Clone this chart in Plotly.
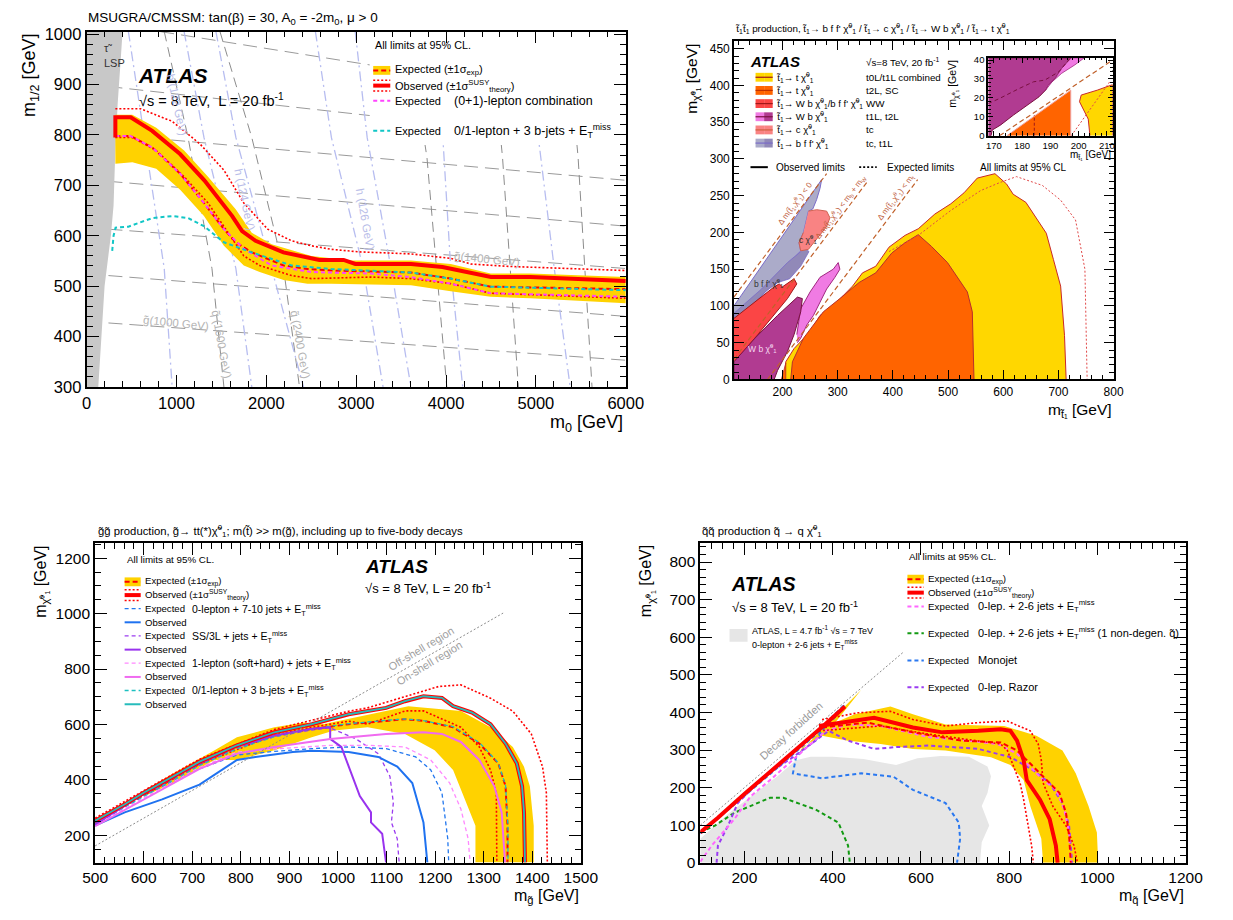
import plotly.graph_objects as go

W, H = 1233, 920
FONT = "Liberation Sans, Arial, Helvetica, sans-serif"

# ======================= mSUGRA/CMSSM (m0, m1/2) =======================
lsp_edge_m0 = [400, 380, 345, 318, 300, 270, 235, 200, 165, 130]
lsp_edge_m12 = [1005, 950, 860, 760, 660, 600, 550, 500, 400, 300]

band_hi_m0 = [320, 509, 775, 1085, 1351, 1661, 1838, 2059, 2502, 2945, 3609, 4052, 4495, 4938, 6000]
band_hi_m12 = [840, 840, 814, 769, 717, 652, 606, 583, 560, 551, 551, 544, 525, 525, 518]
band_lo_m0 = [320, 509, 775, 1041, 1306, 1528, 1749, 1926, 2192, 2458, 2724, 3609, 4052, 4495, 4938, 6000]
band_lo_m12 = [743, 746, 733, 691, 639, 580, 541, 528, 512, 505, 505, 502, 490, 479, 476, 466]

exp_m0 = [320, 487, 731, 1041, 1306, 1528, 1661, 1838, 2192, 2458, 2724, 3609, 4052, 4495, 6000]
exp_m12 = [798, 798, 775, 723, 665, 613, 587, 567, 541, 534, 531, 527, 515, 499, 494]

obs_m0 = [320, 320, 490, 730, 1040, 1310, 1620, 1730, 1880, 2190, 2590, 2860, 2990, 3610, 3960, 4500, 4940, 6000]
obs_m12 = [795, 835, 835, 808, 762, 710, 639, 609, 590, 567, 552, 552, 544, 544, 538, 518, 518, 510]
obs_up_m0 = [320, 598, 952, 1262, 1528, 1749, 2015, 2281, 2502, 2724, 3034, 3609, 4052, 4274, 4717, 5381, 6000]
obs_up_m12 = [852, 852, 827, 782, 730, 665, 613, 590, 580, 573, 568, 564, 555, 544, 539, 535, 531]
obs_dn_m0 = [320, 509, 775, 1085, 1351, 1572, 1749, 1926, 2281, 2502, 3165, 3609, 4052, 4495, 6000]
obs_dn_m12 = [795, 795, 769, 717, 665, 606, 560, 541, 521, 515, 518, 515, 505, 486, 476]

lep01_m0 = [320, 487, 731, 1041, 1306, 1528, 1749, 2059, 2502, 3165, 3609, 4052, 4495, 6000]
lep01_m12 = [798, 798, 775, 723, 665, 613, 574, 541, 528, 525, 518, 505, 486, 479]
bjet3_m0 = [285, 300, 322, 465, 731, 952, 1129, 1306, 1528, 1838, 2281, 2724, 3609, 4052, 4495, 6000]
bjet3_m12 = [570, 600, 616, 618, 635, 639, 635, 619, 587, 567, 541, 534, 527, 515, 499, 492]

# iso-mass contours drawn behind the limits
gluino_m0 = [[243, 6000], [243, 6000], [243, 6000], [243, 6000], [243, 6000], [243, 6000], [819, 6000]]
gluino_m12 = [[427, 353], [521, 440], [613, 535], [708, 619], [801, 710], [896, 782], [1005, 858]]
squark_m0 = [[864, 1129, 1395, 1528], [1484, 1838, 2192, 2369], [3570, 3787, 4008],
             [4490, 4628, 4805], [5340, 5469, 5624]]
squark_m12 = [[1005, 795, 535, 300], [1005, 795, 535, 300], [1005, 756, 300],
              [1005, 756, 300], [1005, 756, 300]]
higgs_m0 = [[465, 642, 864, 952], [1085, 1306, 1661, 1838], [1439, 1661, 2059, 2414],
            [2546, 2724, 3078, 3299], [2989, 3122, 3388, 3609], [3875, 3964, 4052, 4185],
            [4894, 5027, 5204, 5381]]
higgs_m12 = [1005, 795, 535, 300]

# ======================= stop pair production =======================
st_tchi_x = [203, 206, 221, 250, 268, 286, 310, 327, 345, 369, 393, 422, 446, 476, 505, 529, 553, 585,
             606, 618, 641, 658, 678, 691, 704, 711, 714]
st_tchi_y = [0, 24, 42, 65, 87, 96, 114, 127, 145, 154, 180, 196, 205, 225, 239, 254, 274, 280,
             266, 252, 241, 221, 199, 163, 127, 60, 0]
st_tchi_exp_x = [393, 446, 505, 559, 594, 624, 671, 704, 731, 748, 752]
st_tchi_exp_y = [174, 196, 230, 257, 268, 276, 264, 244, 217, 150, 0]
st_t2l_x = [215, 218, 238, 274, 304, 339, 369, 398, 422, 446, 470, 499, 535, 544, 547]
st_t2l_y = [0, 24, 56, 92, 110, 132, 145, 172, 186, 197, 181, 159, 119, 92, 0]
st_t2l_b_x = [198, 206, 206]
st_t2l_b_y = [0, 22, 0]
st_bff_x = [112, 271, 268, 262, 255, 247, 238, 230, 233, 215, 195, 170, 145, 120, 112]
st_bff_y = [100, 272, 260, 245, 232, 229, 200, 186, 175, 160, 140, 120, 100, 75, 60]
st_bff_in_x = [112, 112, 162, 209, 241, 248, 233, 213, 192, 170, 145, 120]
st_bff_in_y = [60, 90, 123, 159, 179, 174, 154, 137, 132, 120, 100, 75]
st_tc_x = [247, 262, 280, 286, 280, 262, 247, 233, 230, 238]
st_tc_y = [229, 231, 229, 220, 208, 191, 177, 175, 186, 200]
st_ww_x = [112, 150, 185, 194, 200, 221, 226, 209, 179, 150, 120, 112]
st_ww_y = [83, 106, 126, 130, 126, 137, 130, 110, 83, 56, 29, 20]
st_wb_x = [112, 112, 150, 191, 227, 236, 233, 221, 209, 191, 185]
st_wb_y = [0, 24, 56, 87, 112, 110, 92, 61, 38, 12, 0]
st_wb2_x = [226, 233, 250, 268, 292, 301, 304, 295, 280, 268, 256, 244, 233, 227]
st_wb2_y = [61, 96, 119, 139, 150, 159, 150, 139, 123, 105, 87, 74, 56, 50]
# kinematic boundaries: m(chi) = m(stop) - dm
kin_dm = [0, 84.6, 173]
kin_x0 = [112, 112, 173]
kin_x1 = [280, 355, 445]

# zoom on the m(stop) ~ m(top) corridor
in_wb_x = [168, 169, 169.4, 172.3, 176.9, 182.6, 186, 188.3, 189.4, 191.7, 194, 197.4, 168]
in_wb_y = [0, 0, 3, 5.6, 10.9, 17.1, 20.6, 24.1, 26.8, 30.3, 35.6, 41.2, 41.2]
in_wb2_x = [188.3, 190.6, 194, 198.6, 202, 197.4, 194, 191.7, 189.4]
in_wb2_y = [24.1, 28.5, 33, 37.4, 41.2, 41.2, 35.6, 30.3, 26.8]
in_wb_exp_x = [168, 172, 179, 184, 188, 193, 197]
in_wb_exp_y = [17, 19.7, 25, 28.5, 29.4, 33.8, 41]
in_t2l_x = [174.6, 197.2, 197.2]
in_t2l_y = [0, 24.1, 0]
in_tchi_x = [204, 203.4, 200.3, 200.9, 206.6, 212, 212]
in_tchi_y = [0, 8.8, 18, 21.5, 24.1, 27, 0]
in_tchi_exp_x = [197.4, 211]
in_tchi_exp_y = [0, 28.5]
in_t2l_exp_x = [184.3, 184.3]
in_t2l_exp_y = [0, 10.9]
in_kin_x = [172, 212]
in_kin_y = [0, 40]

# ======================= gluino -> tt chi =======================
gl_band_out_x = [600, 661, 746, 792, 869, 930, 969, 1099, 1145, 1253, 1314, 1360, 1383, 1395, 1403, 1403]
gl_band_out_y = [360, 424, 507, 554, 590, 607, 601, 649, 666, 649, 590, 519, 448, 377, 235, 102]
gl_band_in_x = [1283, 1283, 1237, 1199, 1138, 1061, 992, 946, 869, 792, 746, 661, 600]
gl_band_in_y = [102, 235, 436, 507, 566, 590, 578, 554, 507, 472, 472, 389, 340]
gl_obs_x = [500, 561, 600, 654, 715, 792, 869, 946, 1022, 1099, 1138, 1176, 1214, 1237, 1276, 1314,
            1345, 1368, 1379, 1383, 1385]
gl_obs_y = [253, 312, 354, 407, 466, 525, 572, 601, 637, 660, 684, 702, 696, 666, 643, 601,
            531, 460, 377, 283, 102]
gl_obs_up_x = [500, 600, 715, 869, 1022, 1061, 1138, 1207, 1253, 1314, 1360, 1398, 1421, 1429, 1431]
gl_obs_up_y = [262, 362, 475, 582, 648, 660, 702, 737, 743, 695, 648, 566, 448, 354, 102]
gl_obs_dn_x = [500, 600, 715, 869, 946, 1022, 1061, 1138, 1176, 1253, 1291, 1314, 1326, 1327, 1327]
gl_obs_dn_y = [245, 346, 457, 562, 590, 612, 601, 649, 649, 590, 519, 436, 354, 235, 102]
gl_exp_x = [500, 600, 715, 792, 869, 946, 1022, 1099, 1138, 1176, 1237, 1291, 1330, 1345, 1349, 1349]
gl_exp_y = [247, 345, 458, 519, 560, 584, 601, 613, 619, 613, 590, 531, 460, 377, 235, 102]
gl_3b_exp_x = [500, 600, 715, 792, 869, 946, 1022, 1099, 1138, 1176, 1237, 1291, 1330, 1345, 1350, 1350]
gl_3b_exp_y = [243, 340, 452, 512, 556, 584, 603, 615, 620, 614, 592, 535, 462, 380, 235, 102]
gl_0l_obs_x = [500, 561, 638, 715, 792, 830, 907, 946, 1022, 1083, 1122, 1153, 1176, 1184]
gl_0l_obs_y = [235, 283, 330, 383, 472, 483, 501, 505, 501, 483, 448, 389, 247, 102]
gl_0l_exp_x = [500, 600, 715, 792, 869, 946, 1022, 1099, 1160, 1191, 1214, 1226, 1228]
gl_0l_exp_y = [238, 345, 440, 490, 503, 513, 519, 513, 483, 436, 354, 188, 102]
gl_ss_obs_x = [500, 600, 715, 792, 869, 946, 984, 984, 1007, 1022, 1045, 1068, 1068, 1091, 1099]
gl_ss_obs_y = [240, 350, 460, 520, 560, 585, 590, 548, 519, 448, 342, 283, 247, 206, 102]
gl_ss_exp_x = [500, 600, 715, 792, 869, 946, 984, 1037, 1083, 1107, 1114, 1110, 1122, 1126]
gl_ss_exp_y = [238, 346, 455, 515, 556, 580, 588, 548, 495, 413, 318, 247, 188, 102]
gl_1l_obs_x = [500, 600, 715, 792, 869, 984, 1099, 1176, 1214, 1253, 1291, 1322, 1337, 1344]
gl_1l_obs_y = [233, 330, 440, 495, 519, 548, 566, 572, 566, 537, 472, 377, 283, 102]
gl_1l_exp_x = [500, 600, 715, 792, 869, 984, 1061, 1138, 1191, 1230, 1253, 1268, 1272]
gl_1l_exp_y = [236, 335, 445, 500, 512, 525, 525, 519, 472, 389, 295, 188, 102]
gl_diag_x = [500, 1340]
gl_diag_y = [162, 1002]

# ======================= squark -> q chi =======================
sq7_x = [100, 100, 167, 225, 275, 317, 350, 400, 470, 544, 592, 645, 709, 751, 759, 751, 738, 755, 738, 734]
sq7_y = [0, 64, 134, 186, 230, 273, 282, 282, 276, 260, 278, 284, 282, 256, 230, 186, 151, 99, 55, 0]
sq_band_x = [325, 465, 406, 450, 531, 582, 656, 789, 862, 921, 951, 980, 999, 1002, 877, 873, 848, 833,
             803, 759, 656, 582, 509, 435, 376, 332]
sq_band_y = [295, 460, 373, 395, 416, 395, 368, 364, 338, 299, 238, 151, 81, 0, 0, 64, 151, 220,
             260, 281, 299, 303, 316, 325, 338, 308]
sq_obs_diag_x = [100, 140, 200, 260, 320, 380, 428]
sq_obs_diag_y = [81, 120, 183, 243, 305, 365, 416]
sq_obs_x = [369, 435, 494, 582, 649, 730, 781, 803, 818, 833, 840, 870, 892, 906, 910]
sq_obs_y = [364, 377, 386, 360, 347, 351, 355, 351, 325, 273, 220, 168, 116, 46, 0]
sq_obs_up_x = [376, 457, 531, 582, 656, 730, 796, 848, 866, 873, 877, 899, 929, 947, 955]
sq_obs_up_y = [381, 399, 403, 381, 364, 373, 377, 351, 316, 273, 213, 151, 99, 46, 0]
sq_obs_dn_x = [369, 509, 619, 730, 781, 796, 811, 825, 833, 840, 851, 855]
sq_obs_dn_y = [351, 364, 342, 325, 316, 299, 255, 212, 168, 116, 46, 0]
sq_exp_x = [376, 479, 582, 693, 781, 818, 848, 877, 914, 929, 936, 940]
sq_exp_y = [360, 373, 347, 325, 320, 299, 264, 229, 186, 133, 72, 0]
sq_0l_exp_x = [100, 126, 177, 214, 258, 317, 361, 384, 435, 509, 619, 708, 774, 818, 848, 877, 907, 925, 936, 940]
sq_0l_exp_y = [3, 46, 116, 177, 220, 281, 325, 351, 368, 364, 334, 325, 316, 290, 255, 220, 194, 142, 81, 0]
sq_1nd_exp_x = [100, 133, 177, 258, 288, 361, 413, 435, 439]
sq_1nd_exp_y = [81, 99, 133, 173, 173, 142, 107, 46, 0]
sq_mono_exp_x = [100, 160, 220, 280, 340, 400, 428, 400, 376, 361, 332, 317, 310, 376, 465, 538, 582, 656,
                 686, 689, 682]
sq_mono_exp_y = [78, 137, 198, 258, 318, 380, 421, 390, 351, 325, 299, 281, 238, 225, 238, 229, 194, 159,
                 107, 64, 0]
sq_razor_exp_x = [137, 140, 163, 185, 244, 310, 361, 391, 435, 494, 546, 619, 730, 803, 855, 892, 921, 936, 943]
sq_razor_exp_y = [0, 46, 99, 159, 229, 281, 325, 351, 325, 303, 308, 312, 303, 281, 246, 212, 159, 99, 0]
sq_diag_x = [100, 560]
sq_diag_y = [100, 560]

# ---------------------------------------------------------------------------
fig = go.Figure()


def px(x):
    return x / W


def py(y):
    return 1 - y / H


def line(x, y, ax, color, width, dash="solid"):
    fig.add_trace(go.Scatter(x=x, y=y, mode="lines", xaxis="x" + ax, yaxis="y" + ax,
                             line=dict(color=color, width=width, dash=dash),
                             hoverinfo="skip", showlegend=False))


def area(x, y, ax, color, edge=None, ew=0):
    fig.add_trace(go.Scatter(x=x, y=y, mode="lines", fill="toself", fillcolor=color,
                             xaxis="x" + ax, yaxis="y" + ax,
                             line=dict(color=edge or color, width=ew),
                             hoverinfo="skip", showlegend=False))


DOT = "2px,2px"
DASH = "5px,3px"
RED = "#ff0000"
YEL = "#ffd200"

# ---- panel 1 -------------------------------------------------------------
for xs, ys in zip(gluino_m0, gluino_m12):
    line(xs, ys, "", "#9a9a9a", 1, "14px,7px")
for xs, ys in zip(squark_m0, squark_m12):
    line(xs, ys, "", "#8c8c8c", 1, "10px,6px")
for xs in higgs_m0:
    line(xs, higgs_m12, "", "#b7bdf0", 1.3, "10px,4px,2px,4px")
# white legend backdrop
LEG1 = (3150, 6000, 780, 1005)
area([LEG1[0], LEG1[1], LEG1[1], LEG1[0]], [LEG1[2], LEG1[2], LEG1[3], LEG1[3]], "", "white")
area([0] + lsp_edge_m0 + [0], [1005] + lsp_edge_m12 + [300], "", "#c8c8c8")
area(band_hi_m0 + band_lo_m0[::-1], band_hi_m12 + band_lo_m12[::-1], "", YEL)
line(obs_up_m0, obs_up_m12, "", RED, 1.6, DOT)
line(obs_dn_m0, obs_dn_m12, "", RED, 1.6, DOT)
line(exp_m0, exp_m12, "", RED, 2, DASH)
line(lep01_m0, lep01_m12, "", "#ff44ff", 2, "4px,3px")
line(bjet3_m0, bjet3_m12, "", "#11c6c6", 2, "4px,3px")
line(obs_m0, obs_m12, "", RED, 4)

# ---- panel 2 -------------------------------------------------------------
area(st_bff_x, st_bff_y, "2", "#ababc9", "#7a6cc8", 1)
area(st_bff_in_x, st_bff_in_y, "2", "#9189b8", "#7a6cc8", 0.8)
area(st_tc_x, st_tc_y, "2", "#f98383", "#d06050", 1)
area(st_ww_x, st_ww_y, "2", "#fb4545", "#a01818", 1)
area(st_wb2_x, st_wb2_y, "2", "#f07be3", "#a02880", 1)
area(st_wb_x, st_wb_y, "2", "#b13b91", "#7a1040", 1)
area(st_tchi_x, st_tchi_y, "2", "#ffd700", "#c8282a", 1)
area(st_t2l_x, st_t2l_y, "2", "#ff6400", "#b8302a", 1)
area(st_t2l_b_x, st_t2l_b_y, "2", "#ff6400", "#b8302a", 0.8)
line(st_tchi_exp_x, st_tchi_exp_y, "2", "#e04848", 1, "2px,2px")
for dm, x0, x1 in zip(kin_dm, kin_x0, kin_x1):
    line([x0, x1], [x0 - dm, x1 - dm], "2", "#c0602a", 1.2, "5px,3px")

# inset
area(in_wb_x, in_wb_y, "5", "#b13b91", "#7a1040", 1)
area(in_wb2_x, in_wb2_y, "5", "#f07be3", "#a02880", 0.8)
area(in_t2l_x, in_t2l_y, "5", "#ff6400", "#f0a0a0", 1)
area(in_tchi_x, in_tchi_y, "5", "#ffd700", "#c8282a", 1)
line(in_wb_exp_x, in_wb_exp_y, "5", "#7a1040", 1, "4px,3px")
line(in_tchi_exp_x, in_tchi_exp_y, "5", "#e04848", 1, "2px,2px")
line(in_t2l_exp_x, in_t2l_exp_y, "5", "#a01818", 1, "3px,2px")
line(in_kin_x, in_kin_y, "5", "#c0602a", 1.2, "5px,3px")

# ---- panel 3 -------------------------------------------------------------
area(gl_band_out_x + gl_band_in_x, gl_band_out_y + gl_band_in_y, "3", YEL)
line(gl_obs_up_x, gl_obs_up_y, "3", RED, 1.6, DOT)
line(gl_obs_dn_x, gl_obs_dn_y, "3", RED, 1.6, DOT)
line(gl_0l_exp_x, gl_0l_exp_y, "3", "#2277ee", 1.3, "4px,3px")
line(gl_ss_exp_x, gl_ss_exp_y, "3", "#9b3cf0", 1.3, "4px,3px")
line(gl_1l_exp_x, gl_1l_exp_y, "3", "#ff88ff", 1.3, "4px,3px")
line(gl_exp_x, gl_exp_y, "3", RED, 2, DASH)
line(gl_3b_exp_x, gl_3b_exp_y, "3", "#1cc0c0", 1.3, "4px,3px")
line(gl_0l_obs_x, gl_0l_obs_y, "3", "#1f72f0", 2)
line(gl_ss_obs_x, gl_ss_obs_y, "3", "#9933ee", 2)
line(gl_1l_obs_x, gl_1l_obs_y, "3", "#f06af0", 2)
line(gl_obs_x, gl_obs_y, "3", RED, 4)
line(gl_obs_x, gl_obs_y, "3", "#26bcbc", 1.8)
line(gl_diag_x, gl_diag_y, "3", "#8a8a8a", 1, "2px,2px")

# ---- panel 4 -------------------------------------------------------------
area(sq7_x, sq7_y, "4", "#e6e6e6")
area(sq_band_x, sq_band_y, "4", YEL)
line(sq_1nd_exp_x, sq_1nd_exp_y, "4", "#139a13", 2, "4px,3px")
line(sq_mono_exp_x, sq_mono_exp_y, "4", "#2a78f0", 2, "4px,3px")
line(sq_razor_exp_x, sq_razor_exp_y, "4", "#9a3cf2", 2, "4px,3px")
line(sq_0l_exp_x, sq_0l_exp_y, "4", "#ff66ff", 2, "4px,3px")
line(sq_obs_up_x, sq_obs_up_y, "4", RED, 1.6, DOT)
line(sq_obs_dn_x, sq_obs_dn_y, "4", RED, 1.6, DOT)
line(sq_exp_x, sq_exp_y, "4", RED, 2, DASH)
line(sq_obs_x, sq_obs_y, "4", RED, 4)
line(sq_obs_diag_x, sq_obs_diag_y, "4", RED, 4)
line(sq_diag_x, sq_diag_y, "4", "#8a8a8a", 1, "2px,2px")


# ---- axes ----------------------------------------------------------------
def axis(domain, rng, dtick, mdtick, tlen, mlen, fsize, anchor, lw=1.8):
    return dict(domain=domain, range=rng, dtick=dtick, tick0=0, ticks="inside", ticklen=tlen,
                tickwidth=1.3, tickcolor="black", mirror="allticks", showline=True,
                linecolor="black", linewidth=lw, showgrid=False, zeroline=False, anchor=anchor,
                tickfont=dict(family=FONT, size=fsize, color="black"),
                minor=dict(dtick=mdtick, tick0=0, ticks="inside", ticklen=mlen, tickwidth=1,
                           tickcolor="black", showgrid=False))


fig.update_layout(
    width=W, height=H, margin=dict(l=0, r=0, t=0, b=0),
    paper_bgcolor="white", plot_bgcolor="white", showlegend=False,
    xaxis=axis([px(75.5), px(628.6)], [0, 6000], 1000, 200, 12, 6, 16.5, "y"),
    yaxis=axis([py(386.7), py(25)], [300, 1005], 100, 20, 12, 6, 16.5, "x"),
    xaxis2=axis([px(739.5), px(1129)], [112, 800], 100, 20, 10, 5, 12, "y2", 1.5),
    yaxis2=axis([py(379), py(34.3)], [0, 461], 50, 10, 10, 5, 12, "x2", 1.5),
    xaxis3=axis([px(84.2), px(582.5)], [500, 1500], 100, 20, 12, 6, 15.5, "y3"),
    yaxis3=axis([py(870.7), py(545.7)], [102, 1254], 200, 50, 12, 6, 15.5, "x3"),
    xaxis4=axis([px(705), px(1202.8)], [100, 1200], 200, 25, 12, 6, 15.5, "y4"),
    yaxis4=axis([py(871), py(545.7)], [0, 850], 100, 20, 12, 6, 15.5, "x4"),
    xaxis5=axis([px(1000.4), px(1127.9)], [168, 212], 10, 2, 5, 2.5, 9.5, "y5", 1.8),
    yaxis5=axis([py(131), py(51.7)], [0, 41.2], 10, 2, 5, 2.5, 9.5, "x5", 1.8),
)

ann = []
shp = []


def txt(s, x, y, size, anchor="left", color="black", angle=0, yanchor="middle"):
    ann.append(dict(text=s, x=px(x), y=py(y), xref="paper", yref="paper", xanchor=anchor,
                    yanchor=yanchor, showarrow=False, textangle=angle,
                    font=dict(family=FONT, size=size, color=color)))


def dtxt(s, x, y, ax, size, color, angle=0):
    ann.append(dict(text=s, x=x, y=y, xref="x" + ax, yref="y" + ax, showarrow=False,
                    textangle=angle, font=dict(family=FONT, size=size, color=color)))


def seg(x0, x1, y, color, width, dash="solid"):
    shp.append(dict(type="line", xref="paper", yref="paper", x0=px(x0), x1=px(x1), y0=py(y),
                    y1=py(y), line=dict(color=color, width=width, dash=dash), layer="above"))


def box(x0, x1, y0, y1, color):
    shp.append(dict(type="rect", xref="paper", yref="paper", x0=px(x0), x1=px(x1), y0=py(y1),
                    y1=py(y0), fillcolor=color, line=dict(width=0), layer="above"))


def exp_key(x0, x1, y):
    box(x0, x1, y - 4.5, y + 4.5, YEL)
    seg(x0, x1, y, RED, 2, DASH)


def obs_key(x0, x1, y):
    seg(x0, x1, y - 5.5, RED, 1.5, DOT)
    seg(x0, x1, y, RED, 4)
    seg(x0, x1, y + 5.5, RED, 1.5, DOT)


chi = "χ\u0303<sup>0</sup><sub>1</sub>"
st1 = "t\u0303<sub>1</sub>"
ETm = "E<sub>T</sub><sup>miss</sup>"
SEXP = "(±1σ<sub>exp</sub>)"
STH = "(±1σ<sup>SUSY</sup><sub>theory</sub>)"

# ---- panel 1 texts ----
txt("MSUGRA/CMSSM: tan(β) = 30, A<sub>0</sub> = -2m<sub>0</sub>, μ > 0", 75, 12, 13.5)
txt("m<sub>1/2</sub> [GeV]", 18, 25, 18, "center", angle=-90, yanchor="top")
txt("m<sub>0</sub> [GeV]", 628, 424, 18, "right")
txt("<b><i>ATLAS</i></b>", 126, 70, 21)
txt("√s = 8 TeV,  L = 20 fb<sup>-1</sup>", 127, 95, 14.5)
txt("τ\u0303", 91, 42, 11, color="#333333")
txt("LSP", 91, 57, 11, color="#333333")
txt("All limits at 95% CL.", 369, 39, 10.8)
exp_key(369.5, 387, 64.5)
txt("Expected " + SEXP, 390, 64.5, 11)
obs_key(369.5, 387, 80)
txt("Observed " + STH, 390, 80, 11)
seg(369.5, 387, 95.5, "#ff44ff", 2, "4px,3px")
txt("Expected", 390, 95.5, 11)
txt("(0+1)-lepton combination", 450, 95.5, 12.5)
seg(369.5, 387, 126, "#11c6c6", 2, "4px,3px")
txt("Expected", 390, 126, 11)
txt("0/1-lepton + 3 b-jets + " + ETm, 450, 126, 12.5)
GL = "#b4b4b4"
HB = "#b9bde8"
dtxt("h (122 GeV)", 1010, 860, "", 11.5, HB, 78)
dtxt("h (124 GeV)", 1760, 671, "", 11.5, HB, 78)
dtxt("h (126 GeV)", 3105, 632, "", 11.5, HB, 80)
dtxt("g\u0303(1000 GeV)", 1000, 427, "", 11.5, GL, 6)
dtxt("g\u0303(1400 GeV)", 4450, 554, "", 11.5, GL, 6)
dtxt("q\u0303 (1600 GeV)", 1500, 385, "", 11.5, GL, 80)
dtxt("q\u0303 (2400 GeV)", 2375, 385, "", 11.5, GL, 80)

# ---- panel 2 texts ----
txt(st1 + st1 + " production, " + st1 + "→ b f f' " + chi + " / " + st1 + "→ c " + chi + " / "
    + st1 + "→ W b " + chi + " / " + st1 + "→ t " + chi, 739, 22, 9.8)
txt("m<sub>χ\u0303⁰₁</sub> [GeV]", 697, 35, 15.5, "center", angle=-90, yanchor="top")
txt("m<sub>t\u0303₁</sub> [GeV]", 1129, 411, 15.5, "right")
txt("<b><i>ATLAS</i></b>", 754, 55, 15)
txt("√s=8 TeV, 20 fb<sup>-1</sup>", 873, 56, 9.8)
keys2 = [("#ffd700", "#ffd700", "#a01818", st1 + "→ t " + chi, "t0L/t1L combined"),
         ("#ff6400", "#ff6400", "#c03000", st1 + "→ t " + chi, "t2L, SC"),
         ("#fb4545", "#fb4545", "#a01818", st1 + "→ W b " + chi + "/b f f' " + chi, "WW"),
         ("#f07be3", "#b13b91", "#7a1040", st1 + "→ W b " + chi, "t1L, t2L"),
         ("#f98383", "#f98383", "#d06040", st1 + "→ c " + chi, "tc"),
         ("#ababc9", "#9189b8", "#7a6cc8", st1 + "→ b f f' " + chi, "tc, t1L")]
for i, (c1, c2, cl, lab, ana) in enumerate(keys2):
    yy = 71.5 + i * 13.4
    box(761.7, 770.5, yy - 4.5, yy + 4.5, c1)
    box(770.5, 779.3, yy - 4.5, yy + 4.5, c2)
    seg(761.7, 779.3, yy, cl, 1.2)
    txt(lab, 781, yy, 9.5)
    txt(ana, 873, yy, 9.8)
seg(756.5, 774.3, 163, "black", 2)
txt("Observed limits", 781, 163, 10)
seg(868, 886, 163, "black", 1.8, "2px,2px")
txt("Expected limits", 894, 163, 10)
txt("All limits at 95% CL", 990, 163, 10)
BR = "#c06040"
dtxt("Δ m(" + st1 + "," + chi + ") < 0", 222, 240, "2", 8, BR, -53)
dtxt("Δ m(" + st1 + "," + chi + ") < m<sub>b</sub> + m<sub>W</sub>", 305, 236, "2", 8, BR, -53)
dtxt("Δ m(" + st1 + "," + chi + ") < m<sub>t</sub>", 404, 248, "2", 8, BR, -53)
dtxt("b f f' " + chi, 175, 130, "2", 8.5, "#333333")
dtxt("c " + chi, 246, 191, "2", 8.5, "#333333")
dtxt("W b " + chi, 163, 42, "2", 8.5, "#f4d8f0")
txt("m<sub>χ\u0303⁰₁</sub> [GeV]", 964, 52, 10.5, "center", angle=-90, yanchor="top")
txt("m<sub>t\u0303₁</sub> [GeV]", 1128, 151, 10, "right")

# ---- panel 3 texts ----
txt("g\u0303g\u0303 production, g\u0303→ tt(*)" + chi + "; m(t\u0303) >> m(g\u0303), including up to five-body decays",
    85, 533, 11.3)
txt("m<sub>χ\u0303⁰₁</sub> [GeV]", 29, 546, 16, "center", angle=-90, yanchor="top")
txt("m<sub>g\u0303</sub> [GeV]", 582.5, 905, 16, "right")
txt("<b><i>ATLAS</i></b>", 359, 569, 19)
txt("√s = 8 TeV, L = 20 fb<sup>-1</sup>", 359, 591, 13)
txt("All limits at 95% CL.", 114.5, 562, 9.8)
exp_key(114.5, 131, 585)
txt("Expected " + SEXP, 133.5, 585, 9.6)
obs_key(114.5, 131, 598.5)
txt("Observed " + STH, 133.5, 598.5, 9.6)
groups3 = [("#2277ee", "#1f72f0", "0-lepton + 7-10 jets + " + ETm),
           ("#9b3cf0", "#9933ee", "SS/3L + jets + " + ETm),
           ("#ff88ff", "#f06af0", "1-lepton (soft+hard) + jets + " + ETm),
           ("#1cc0c0", "#26bcbc", "0/1-lepton + 3 b-jets + " + ETm)]
for i, (ce, co, lab) in enumerate(groups3):
    ye = 612.2 + i * 27.8
    seg(114.5, 131, ye, ce, 1.3, "4px,3px")
    txt("Expected", 133.5, ye, 9.6)
    txt(lab, 181.7, ye + 1, 10.5)
    seg(114.5, 131, ye + 14, co, 2)
    txt("Observed", 133.5, ye + 14, 9.6)
dtxt("Off-shell region", 1170, 872, "3", 11, "#a0a0a0", -31)
dtxt("On-shell region", 1188, 822, "3", 11, "#a0a0a0", -31)

# ---- panel 4 texts ----
txt("q\u0303q\u0303 production q\u0303 → q " + chi, 705, 533, 11.3)
txt("m<sub>χ\u0303⁰₁</sub> [GeV]", 650, 546, 16, "center", angle=-90, yanchor="top")
txt("m<sub>q\u0303</sub> [GeV]", 1202.8, 905, 16, "right")
txt("<b><i>ATLAS</i></b>", 734, 587, 19.5)
txt("√s = 8 TeV, L = 20 fb<sup>-1</sup>", 735, 611, 13)
box(735, 753.5, 633, 646, "#e6e6e6")
txt("ATLAS, L = 4.7 fb<sup>-1</sup> √s = 7 TeV", 756, 634.5, 9)
txt("0-lepton + 2-6 jets + " + ETm, 756, 648.5, 9)
txt("All limits at 95% CL.", 917.5, 559.5, 9.8)
exp_key(917.5, 934.3, 582.3)
txt("Expected " + SEXP, 937, 582.3, 9.8)
obs_key(917.5, 934.3, 596)
txt("Observed " + STH, 937, 596, 9.8)
keys4 = [("#ff66ff", 610, "0-lep. + 2-6 jets + " + ETm),
         ("#139a13", 637.3, "0-lep. + 2-6 jets + " + ETm + " (1 non-degen. q\u0303)"),
         ("#2a78f0", 665, "Monojet"),
         ("#9a3cf2", 692.3, "0-lep. Razor")]
for c, yy, lab in keys4:
    seg(917.5, 934.3, yy, c, 2, "4px,3px")
    txt("Expected", 937, yy, 9.8)
    txt(lab, 988, yy, 11)
dtxt("Decay forbidden", 305, 351, "4", 11, "#9a9a9a", -42)

fig.update_layout(annotations=ann, shapes=shp)
fig.write_html("out.html")
